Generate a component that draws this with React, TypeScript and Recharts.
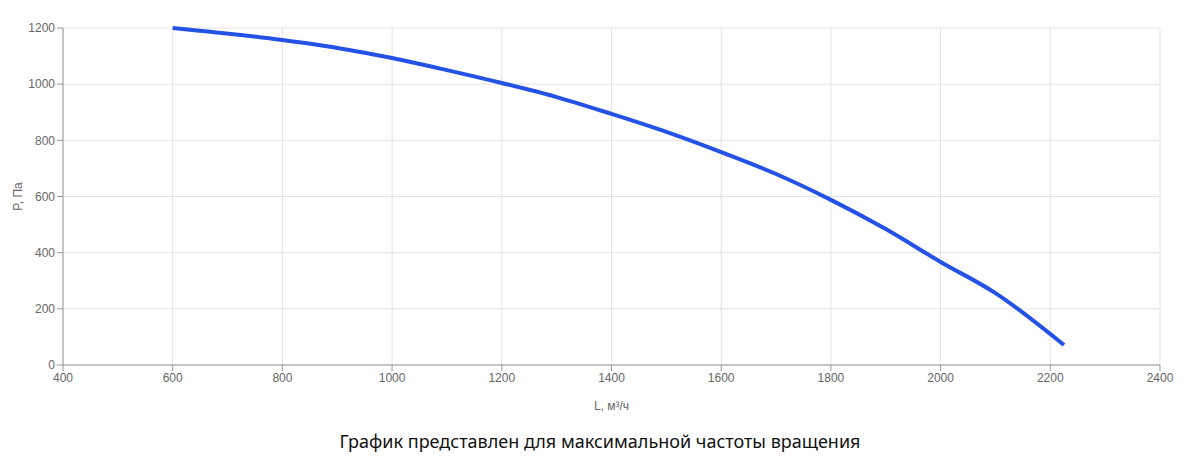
import { FC } from "react";
import {
  CartesianGrid,
  Label,
  Line,
  LineChart,
  XAxis,
  YAxis,
} from "recharts";

// fan curve
const flow = [600, 800, 900, 1000, 1100, 1200, 1300, 1400, 1500, 1600, 1700, 1800, 1900, 2000, 2100, 2225];
const pressure = [1200, 1157, 1129, 1093, 1050, 1004, 954, 894, 830, 758, 680, 588, 484, 367, 256, 71];

const xTicks = [400, 600, 800, 1000, 1200, 1400, 1600, 1800, 2000, 2200, 2400];
const yTicks = [0, 200, 400, 600, 800, 1000, 1200];

const tickStyle = { fill: "#666", fontSize: 12, fontFamily: "Liberation Sans, Arial, sans-serif" };

const App: FC = () => {
  const data = flow.map((l, i) => ({ l, p: pressure[i] }));

  return (
    <div style={{ width: 1184 }}>
      <LineChart
        width={1184}
        height={410}
        data={data}
        margin={{ top: 20, right: 32, left: 0, bottom: 0 }}
      >
        <CartesianGrid stroke="#e3e3e3" />
        <XAxis
          dataKey="l"
          type="number"
          domain={[400, 2400]}
          ticks={xTicks}
          tick={tickStyle}
          stroke="#999"
          height={53}
        >
          <Label
            value="L, м³/ч"
            position="insideBottom"
            offset={8}
            style={{ ...tickStyle, fill: "#666" }}
          />
        </XAxis>
        <YAxis
          type="number"
          domain={[0, 1200]}
          ticks={yTicks}
          tick={tickStyle}
          stroke="#999"
          width={55}
        >
          <Label
            value="P, Па"
            angle={-90}
            position="insideLeft"
            offset={10}
            style={{ ...tickStyle, fill: "#666", textAnchor: "middle" }}
          />
        </YAxis>
        <Line
          type="monotone"
          dataKey="p"
          stroke="#2451e6"
          strokeWidth={4}
          dot={false}
          isAnimationActive={false}
        />
      </LineChart>
      <div
        style={{
          textAlign: "center",
          fontFamily: "Noto Sans, sans-serif",
          fontSize: 18,
          color: "#111",
          marginTop: 11,
        }}
      >
        График представлен для максимальной частоты вращения
      </div>
    </div>
  );
};

export default App;
